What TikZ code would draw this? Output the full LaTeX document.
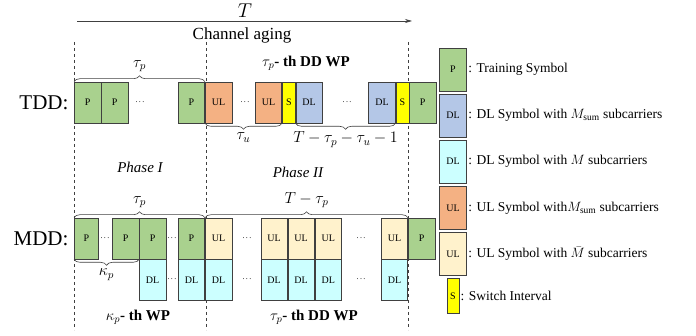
\RequirePackage{fix-cm}
\documentclass[tikz,border=0pt]{standalone}
\usepackage{fontspec}
\setmainfont{Liberation Serif}
\usepackage{amsmath}
\usetikzlibrary{positioning, arrows.meta, decorations.pathreplacing}
\definecolor{pgreen}{HTML}{A9D18E}
\definecolor{dlblue}{HTML}{B4C7E7}
\definecolor{dlcyan}{HTML}{CCFFFF}
\definecolor{ulorange}{HTML}{F4B183}
\definecolor{ulbeige}{HTML}{FFF2CC}
\definecolor{swyellow}{HTML}{FFFF00}
\definecolor{edgegray}{HTML}{404040}
\newcommand{\sdots}{.\hspace{1.3pt}.\hspace{1.3pt}.}

\begin{document}
\begin{tikzpicture}[x=1pt, y=-1pt,
        sym/.style={rectangle, draw=edgegray, semithick, minimum width=26.5pt, minimum height=41pt, inner sep=0pt, font=\fontsize{10}{10}\selectfont},
        pil/.style={sym, fill=pgreen},
        dlm/.style={sym, fill=dlblue},
        dlc/.style={sym, fill=dlcyan},
        ulm/.style={sym, fill=ulorange},
        ulc/.style={sym, fill=ulbeige},
        sw/.style={sym, fill=swyellow, minimum width=13pt},
        legsym/.style={minimum width=27.5pt, minimum height=43pt},
        legtext/.style={right=0pt of #1, font=\fontsize{13.5}{13.5}\selectfont, inner sep=1pt},
        dots/.style={font=\fontsize{8}{8}\selectfont},
        rowlabel/.style={font=\fontsize{21}{21}\selectfont},
        wplabel/.style={font=\fontsize{15}{15}\selectfont\bfseries},
        phase/.style={font=\fontsize{15}{15}\selectfont\itshape},
        brc/.style={decorate, decoration={brace, amplitude=6pt}, edgegray, semithick},
        brcb/.style={decorate, decoration={brace, mirror, amplitude=6pt}, edgegray, semithick},
        brlabel/.style={font=\fontsize{16}{16}\selectfont, black}
    ]
        \useasboundingbox (0,0) rectangle (696,336);

        % time axis and phase borders
        \coordinate (TS) at (77,21);
        \coordinate (TE) at (412,21);
        \draw[semithick, edgegray, -{Stealth[length=7pt, width=4pt]}] (TS) -- (TE);
        \node[font=\fontsize{20}{20}\selectfont] (TLAB) at (245,11) {$T$};
        \node[font=\fontsize{17}{17}\selectfont] (AGING) at (242,35) {Channel aging};
        \foreach \x in {74, 206, 408}
            \draw[dashed, edgegray] (\x,42) -- (\x,330);

        % TDD frame
        \node[pil, anchor=west] (TDDP1) at (74,102.5) {P};
        \node[pil, right=0pt of TDDP1] (TDDP2) {P};
        \node[dots] at (140,102.5) {\sdots};
        \node[pil, anchor=east] (TDDP3) at (205,102.5) {P};
        \node[ulm, right=0pt of TDDP3] (TDDU1) {UL};
        \node[dots] at (245,102.5) {\sdots};
        \node[ulm, anchor=east] (TDDU2) at (282,102.5) {UL};
        \node[sw, right=0pt of TDDU2] (TDDS1) {S};
        \node[dlm, right=0pt of TDDS1] (TDDD1) {DL};
        \node[dots] at (347,102.5) {\sdots};
        \node[dlm, anchor=east] (TDDD2) at (395.5,102.5) {DL};
        \node[sw, right=0pt of TDDD2] (TDDS2) {S};
        \node[pil, right=0pt of TDDS2] (TDDP4) {P};
        \node[rowlabel, left=2pt of TDDP1] (TDD) {TDD:};

        \draw[brc] (TDDP1.north west) -- (TDDP3.north east) node[midway, above=6pt, brlabel] {$\tau_p$};
        \draw[brcb] (TDDU1.south west) -- (TDDU2.south east) node[midway, below=6pt, brlabel] {$\tau_u$};
        \draw[brcb] (TDDD1.south west) -- (TDDD2.south east) node[midway, below=5pt, brlabel] {$T-\tau_p-\tau_u-1$};
        \node[wplabel] (TDDWP) at (306,63) {$\tau_p$- th DD WP};

        \node[phase] (PH1) at (140,167) {Phase I};
        \node[phase] (PH2) at (298,172) {Phase II};

        % MDD frame
        \node[pil, anchor=west, minimum width=24pt] (MDDP1) at (74,238.5) {P};
        \node[dots] at (105,238.5) {\sdots};
        \node[pil, anchor=west] (MDDP2) at (112,238.5) {P};
        \node[pil, right=0pt of MDDP2] (MDDP3) {P};
        \node[dots] at (172,238.5) {\sdots};
        \node[pil, anchor=east] (MDDP4) at (205,238.5) {P};
        \node[ulc, right=0pt of MDDP4] (MDDU1) {UL};
        \node[dots] at (247,238.5) {\sdots};
        \node[ulc, anchor=west] (MDDU2) at (260.5,238.5) {UL};
        \node[ulc, right=0pt of MDDU2] (MDDU3) {UL};
        \node[ulc, right=0pt of MDDU3] (MDDU4) {UL};
        \node[dots] at (361,238.5) {\sdots};
        \node[ulc, anchor=east] (MDDU5) at (408,238.5) {UL};
        \node[pil, right=0pt of MDDU5] (MDDP5) {P};

        \node[dlc, below=0pt of MDDP3] (MDDD1) {DL};
        \node[dots] at (172,279.5) {\sdots};
        \node[dlc, below=0pt of MDDP4] (MDDD2) {DL};
        \node[dlc, below=0pt of MDDU1] (MDDD3) {DL};
        \node[dots] at (247,279.5) {\sdots};
        \node[dlc, below=0pt of MDDU2] (MDDD4) {DL};
        \node[dlc, below=0pt of MDDU3] (MDDD5) {DL};
        \node[dlc, below=0pt of MDDU4] (MDDD6) {DL};
        \node[dots] at (361,279.5) {\sdots};
        \node[dlc, below=0pt of MDDU5] (MDDD7) {DL};
        \node[rowlabel, left=2pt of MDDP1] (MDD) {MDD:};

        \draw[brc] (MDDP1.north west) -- (MDDP4.north east) node[midway, above=6pt, brlabel] {$\tau_p$};
        \draw[brc] (MDDU1.north west) -- (MDDU5.north east) node[midway, above=6pt, brlabel] {$T-\tau_p$};
        \draw[brcb] (MDDP1.south west) -- (MDDP2.south east) node[midway, below=6pt, brlabel] {$\kappa_p$};
        \node[wplabel] (MDDWP1) at (138,317) {$\kappa_p$- th WP};
        \node[wplabel] (MDDWP2) at (314,317) {$\tau_p$- th DD WP};

        % Legend
        \node[pil, legsym] (LP) at (453,69.5) {P};
        \node[dlm, legsym, below=2.5pt of LP] (LDM) {DL};
        \node[dlc, legsym, below=2.5pt of LDM] (LDC) {DL};
        \node[ulm, legsym, below=2.5pt of LDC] (LUM) {UL};
        \node[ulc, legsym, below=2.5pt of LUM] (LUC) {UL};
        \node[sw, minimum width=12pt, minimum height=35pt, below=2.5pt of LUC] (LS) {S};
        \node[legtext=LP] {: Training Symbol};
        \node[legtext=LDM] {: DL Symbol with $M_{\mathrm{sum}}$ subcarriers};
        \node[legtext=LDC] {: DL Symbol with $M$ subcarriers};
        \node[legtext=LUM] {: UL Symbol with$M_{\mathrm{sum}}$ subcarriers};
        \node[legtext=LUC] {: UL Symbol with $\bar{M}$ subcarriers};
        \node[legtext=LS] {: Switch Interval};
    \end{tikzpicture}
\end{document}
